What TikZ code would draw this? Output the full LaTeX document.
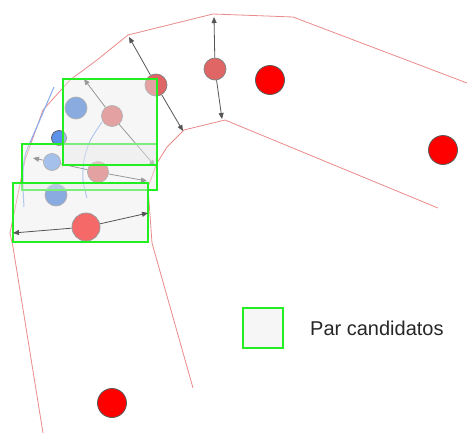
\documentclass[tikz,border=0pt]{standalone}
\usepackage{fontspec}
\setmainfont{Liberation Sans}
\usetikzlibrary{arrows.meta}
\definecolor{ptred}{HTML}{FF0000}
\definecolor{midred}{HTML}{E06666}
\definecolor{deepblue}{HTML}{3C78D8}
\definecolor{cblue}{HTML}{4A86E8}
\definecolor{lblue}{HTML}{6D9EEB}
\definecolor{trackblue}{HTML}{86ABEF}
\definecolor{edgered}{HTML}{EA8A8A}
\definecolor{boxgreen}{HTML}{22EE22}
\definecolor{boxfill}{HTML}{EAEAEA}
\definecolor{arrowgray}{HTML}{555555}
\begin{document}
\begin{tikzpicture}[x=1pt,y=-1pt,
  bigdot/.style={circle,inner sep=0pt,minimum size=29pt,fill=ptred,draw=black!65,line width=0.8pt},
  dot/.style={circle,inner sep=0pt,minimum size=#1,draw=black!50,line width=0.7pt},
  dot/.default=22pt,
  boundary/.style={draw=edgered,line width=0.8pt,line join=round},
  track/.style={draw=trackblue,line width=1pt},
  link/.style={draw=arrowgray,line width=0.8pt,-{Triangle[length=6pt,width=5pt]}},
  plainlink/.style={draw=arrowgray,line width=0.8pt},
  pairbox/.style={draw=boxgreen,line width=1.2pt,fill=boxfill,fill opacity=0.45}]
\useasboundingbox (0,0) rectangle (467,434);

% lane boundaries
\draw[boundary] (43,433) -- (13,247) -- (10,233) -- (25,160) -- (43,110)
  -- (70,80) -- (97,60) -- (128,35) -- (213,14) -- (293,17) -- (467,83);
\draw[boundary] (193,388) -- (152,243) -- (148,187) -- (157,163) -- (167,147)
  -- (184,130) -- (225,120) -- (438,208);

% tracks
\draw[track] plot[smooth] coordinates {(54,87) (39,122) (25,156) (23,182) (24,207)};
\draw[track] plot[smooth] coordinates {(102,122) (90,141) (84,160) (83,180) (87,198)};

% points
\node[bigdot] (r1) at (270,80) {};
\node[bigdot] (r2) at (443,150) {};
\node[bigdot] (r3) at (112,403) {};
\node[dot,fill=midred] (m1) at (215,69) {};
\node[dot,fill=midred] (m2) at (156,85) {};
\node[dot=21pt,fill=midred] (p1) at (112,116) {};
\node[dot=21pt,fill=midred] (p2) at (98,172) {};
\node[dot,fill=deepblue] (b1) at (76,108) {};
\node[dot,fill=deepblue] (b2) at (56,195) {};
\node[dot=15pt,fill=cblue!90!white,draw=black!65] (s1) at (59,138) {};
\node[dot=17pt,fill=lblue] (s2) at (52,162) {};
\node[bigdot,minimum size=28pt] (big) at (86,227) {};

% arrow end points
\coordinate (m2a) at (129,37);
\coordinate (m2b) at (183,131);
\coordinate (m1a) at (214,17);
\coordinate (m1b) at (222,119);
\coordinate (p1a) at (84,79);
\coordinate (p1b) at (155,166);
\coordinate (s2a) at (33,158);
\coordinate (p2b) at (147,181);
\coordinate (biga) at (13,233);
\coordinate (bigb) at (148,213);

% distances
\draw[link] (m2) -- (m2a);
\draw[link] (m2) -- (m2b);
\draw[link] (m1) -- (m1a);
\draw[link] (m1) -- (m1b);
\draw[link] (p1) -- (p1a);
\draw[link] (p1) -- (p1b);
\draw[link] (s2) -- (s2a);
\draw[plainlink] (s2) -- (p2);
\draw[link] (p2) -- (p2b);

% candidate pairs
\node[pairbox,inner sep=0pt,minimum width=135pt,minimum height=46pt] (boxm) at (89.5,167) {};
\node[pairbox,inner sep=0pt,minimum width=94pt,minimum height=86pt] (boxt) at (110,122) {};
\node[pairbox,inner sep=0pt,minimum width=135pt,minimum height=59pt] (boxb) at (80.5,212.5) {};

\draw[link] (big) -- (biga);
\draw[link] (big) -- (bigb);

% legend
\node[pairbox,inner sep=0pt,minimum width=40pt,minimum height=40pt] (key) at (263,328) {};
\node[anchor=base west,inner sep=0pt,font=\fontsize{20}{24}\selectfont,text=black!85] (keylabel) at (310,335) {Par candidatos};
\end{tikzpicture}
\end{document}
